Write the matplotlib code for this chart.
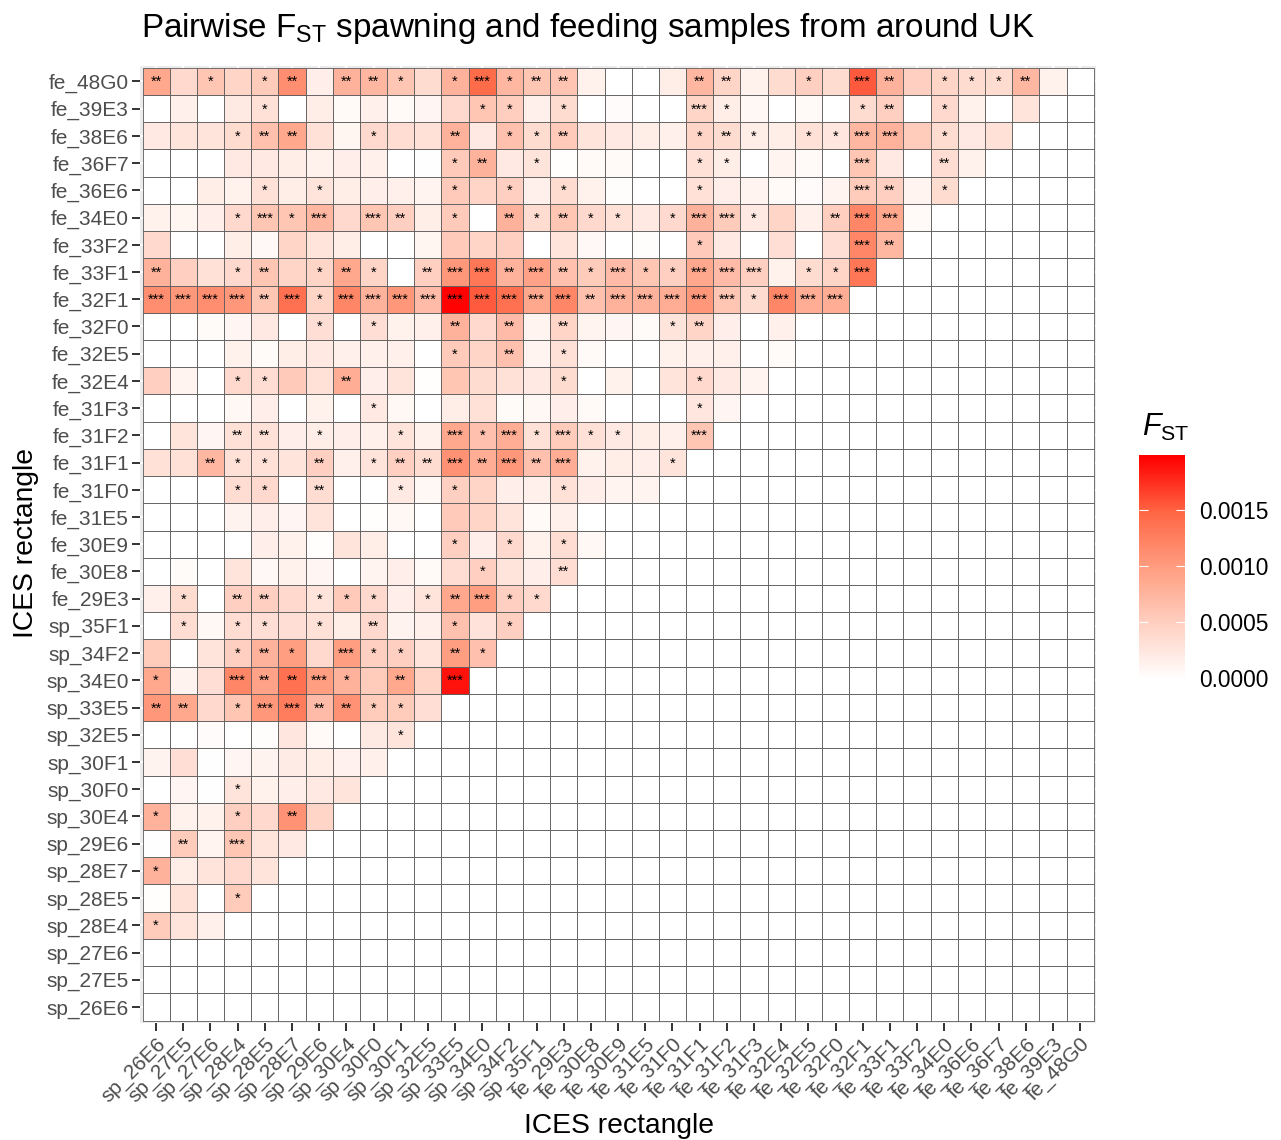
import numpy as np
import matplotlib
matplotlib.use("Agg")
import matplotlib.pyplot as plt
from matplotlib.colors import LinearSegmentedColormap

plt.rcParams['font.family'] = ['Liberation Sans', 'DejaVu Sans']
plt.rcParams['mathtext.fontset'] = 'custom'
plt.rcParams['mathtext.rm'] = 'Liberation Sans'
plt.rcParams['mathtext.it'] = 'Liberation Sans:italic'

x_labels = ['sp_26E6', 'sp_27E5', 'sp_27E6', 'sp_28E4', 'sp_28E5', 'sp_28E7', 'sp_29E6',
            'sp_30E4', 'sp_30F0', 'sp_30F1', 'sp_32E5', 'sp_33E5', 'sp_34E0', 'sp_34F2',
            'sp_35F1', 'fe_29E3', 'fe_30E8', 'fe_30E9', 'fe_31E5', 'fe_31F0', 'fe_31F1',
            'fe_31F2', 'fe_31F3', 'fe_32E4', 'fe_32E5', 'fe_32F0', 'fe_32F1', 'fe_33F1',
            'fe_33F2', 'fe_34E0', 'fe_36E6', 'fe_36F7', 'fe_38E6', 'fe_39E3', 'fe_48G0']
y_labels = ['sp_26E6', 'sp_27E5', 'sp_27E6', 'sp_28E4', 'sp_28E5', 'sp_28E7', 'sp_29E6',
            'sp_30E4', 'sp_30F0', 'sp_30F1', 'sp_32E5', 'sp_33E5', 'sp_34E0', 'sp_34F2',
            'sp_35F1', 'fe_29E3', 'fe_30E8', 'fe_30E9', 'fe_31E5', 'fe_31F0', 'fe_31F1',
            'fe_31F2', 'fe_31F3', 'fe_32E4', 'fe_32E5', 'fe_32F0', 'fe_32F1', 'fe_33F1',
            'fe_33F2', 'fe_34E0', 'fe_36E6', 'fe_36F7', 'fe_38E6', 'fe_39E3', 'fe_48G0']

# FST, units of 0.0001, rows from fe_48G0 down to sp_26E6
fst_rows = [
    [9, 4, 6, 4.5, 5.5, 11.5, 1.8, 8, 7.5, 6, 3.8, 8, 14.5, 7.5, 6, 6.2, 1.4, 0, 0, 2, 7.5, 4.5, 1.4, 3.8, 5, 3.8, 15.5, 8, 5, 4.5, 3.8, 3.8, 7.5, 1.4],
    [0, 1.7, 0, 2.3, 3.2, 0, 2, .6, 1.6, .6, 1, 4, 6, 5.2, 1.6, 3.8, 0, .4, 0, 0, 4.5, 2, .8, 0, .6, 0, 3.8, 5, 0, 4, 1.4, 0, 2.8],
    [2.4, 2.8, 2.8, 3.8, 6.5, 9, 3.2, 1.1, 4, 3.6, 3.2, 8, 2.4, 6.5, 3.8, 5.6, 2.8, 2.4, 2, 1.6, 4.5, 3.8, 2, 2, 3.2, 2.6, 7.5, 8, 5.4, 3.8, 2.4, 3.2],
    [0, 0, 0, 2.4, 2.4, 2, 1.4, 1.8, 1.7, 0, .1, 5.6, 8, 2.4, 2.8, .2, .6, .6, 0, 0, 3.2, 2, 0, 1.2, .6, 0, 6, 2.4, 0, 3.6, 1.4],
    [0, 0, 2, 1.4, 3.2, 2, 2.8, 2, 1.8, 1.6, 1.2, 5.6, 4.5, 5, 1.6, 3.8, 1.4, .3, 0, 0, 3.2, 1.8, 1.2, .6, .4, 1.2, 5.4, 5, 1.2, 3.8],
    [1.4, 1.1, 1.8, 4, 6, 6, 7.5, 4, 6, 5, 2, 5.6, 0, 8, 3.8, 6, 4, 3.2, 2.4, 4, 8, 5.4, 2.4, 4.5, 1.7, 5.2, 12, 9, .6],
    [4, 0, 0, 2, .7, 4.5, 2.8, 2, 0, 0, 1.1, 5.6, 4.5, 5, 0, 2.8, .7, 0, .3, 0, 5.6, 2.4, 0, 3.4, 0, 3.4, 12, 7.5],
    [8, 5, 3.2, 4, 6, 4.5, 4.5, 9, 4.5, 0, 5, 10.5, 13.5, 8, 9.5, 6.5, 5.4, 7, 6, 5, 9, 7, 5, 1.4, 3.8, 4.5, 13.5],
    [11.5, 10.5, 11.5, 10.5, 6, 14, 4.5, 12, 8, 10.5, 7, 19.8, 15.5, 14, 9, 12, 6.5, 8, 8, 8.5, 10.5, 6, 3.8, 12, 8.5, 8.5],
    [0, 0, .5, 1, 2.4, 0, 3.4, 0, 3.4, 1.4, 1.6, 8, 4, 7, 1.2, 4.5, 1.2, 1, .5, 2.8, 4.5, 1.8, 0, 1.6],
    [0, 0, 0, 1.4, .5, 2, 2.4, 1.6, 1.6, 1.6, 0, 5.6, 4.5, 6.5, 1.2, 3.2, .6, 0, 0, 1.4, 1.7, 1.7, 0, .5],
    [5, 1.2, 0, 4, 3.6, 5.6, 3.2, 8.5, 1.8, 2.8, .2, 6, 3.8, 3.2, 2.4, 3.8, 0, 1.4, 0, 2.8, 4, 2.4, 1.2],
    [0, 0, 0, .8, 1.8, 0, 1.4, 0, 2.4, .8, 0, 2, 3.2, .5, .8, 1.8, .6, 0, 0, 0, 2.6, 1],
    [0, 2.8, 1, 3.2, 3.2, 1.8, 2, 1.8, 1.6, 2.8, 1.4, 9, 6.5, 8.5, 3.2, 5.4, 3.2, 2.4, 2, 1.6, 6],
    [3.2, 3.2, 7.5, 3.2, 3.2, 2.8, 5, 1.6, 2.8, 5, 3.8, 11, 8.5, 10.5, 6.5, 8.5, 1.4, 2, 1.8, 2.8],
    [0, 0, 0, 3.6, 4, 0, 3.6, 0, 0, 2.4, .8, 5, 4.5, 1.8, 1.6, 3.2, 1.8, 1.2, 1.2],
    [0, 0, 0, 1.3, 1.8, 1, 2.8, 0, .2, .8, 0, 5.6, 4.5, 2.8, .6, 1.6],
    [0, 0, 0, 0, 1.8, 1.4, .2, 2.8, 2, 0, 0, 5, 1.8, 4, 1.4, 3.6, .8],
    [0, .5, 0, 2.8, .7, 1.4, 1, 0, 1.2, 1.8, .6, 3.6, 5, 2.8, 1.8, 3.6],
    [1.6, 3.8, 0, 5, 5, 4, 2.8, 5.6, 4, 1.8, 2.8, 9, 10, 5, 4],
    [0, 3.6, .8, 3.6, 3.4, 3.4, 3.2, 2, 4, 1.3, 1.6, 6.5, 3, 5],
    [5.4, 0, 2.8, 5, 8, 10, 4, 10, 5, 5, 2.8, 10, 6.5],
    [9, 1.3, 3.4, 12, 9.5, 14, 10, 8, 5.4, 9, 4.5, 19],
    [10.5, 9, 4, 6, 10.5, 13, 7, 11, 5.4, 5.4, 3.4],
    [0, 0, .4, 0, .3, 2.6, .6, 0, 2.3, 2.8],
    [1.3, 3.4, .1, 1, 1.3, 2.1, 2, 1.5, 1.6],
    [0, 1, .1, 2.8, 1.4, 1.8, 2.4, 2.8],
    [8, 1.4, 1.4, 5, 4, 11, 4.5],
    [.1, 5.4, 1.2, 6, 2.8, 2.4],
    [8, 2, 2.8, 4, 2.8],
    [.2, 3.2, 0, 5.4],
    [5.4, 2.8, 1.6],
    [],
    [],
    [],
]

# number of significance stars per cell, same row order
star_rows = [
    '2010120221' '0131220000' '2200103201' '11200',
    '0000100000' '0011010000' '3100001201',
    '0001220010' '0201120000' '1210113301',
    '0000000000' '0120100000' '1100003002',
    '0000101000' '0101010000' '1000003201',
    '0001313032' '0102121101' '3310023300',
    '0000000000' '0000000000' '1000003200',
    '2001201210' '2332321311' '3330113000',
    '3333231333' '3333332333' '3313330',
    '0000001010' '0202020001' '2',
    '0000000000' '0102010000',
    '0001100200' '0000010000' '1',
    '0000000010' '0000000000' '1',
    '0002201001' '0313131100' '3',
    '0021102012' '2323230001',
    '0001102001' '0100010',
    '',
    '0000000000' '0101010',
    '0000000000' '00100200',
    '0102201110' '12311',
    '0101101020' '0101',
    '0001210311' '021',
    '1003223102' '03',
    '2201332211',
    '0000000001',
    '',
    '0001',
    '1001020',
    '0203',
    '1',
    '0001',
    '1',
    '',
    '',
    '',
]

n = len(x_labels)
fst = np.zeros((n, n))
stars = np.zeros((n, n), dtype=int)
for i, row in enumerate(fst_rows):
    # row 0 is the top one, y index runs upward
    fst[n - 1 - i, :len(row)] = np.array(row) * 1e-4
for i, row in enumerate(star_rows):
    for j, c in enumerate(row):
        stars[n - 1 - i, j] = int(c)

cmap = LinearSegmentedColormap.from_list(
    'fst', ['#FFFFFF', '#FFD0C1', '#FF9E81', '#FF6745', '#FF0000'])
vmax = 0.00199

fig = plt.figure(figsize=(12.81, 11.40), dpi=100)
W, H = 1281.0, 1140.0
ax = fig.add_axes([140.2 / W, 1 - 1022.9 / H, 955.8 / W, 957.4 / H])
ax.set_facecolor('#EBEBEB')
edges = np.arange(n + 1) - 0.5
mesh = ax.pcolormesh(edges, edges, fst, cmap=cmap, vmin=0, vmax=vmax,
                     edgecolors='#5A5A5A', linewidth=0.6, antialiased=True, zorder=2)
ax.set_xlim(-0.585, n - 1 + 0.585)
ax.set_ylim(-0.585, n - 1 + 0.585)
ax.grid(True, color='white', linewidth=1.6, zorder=1)
ax.set_axisbelow(True)
for s in ax.spines.values():
    s.set_visible(False)

ax.set_xticks(np.arange(n))
ax.set_yticks(np.arange(n))
ax.set_xticklabels(x_labels, rotation=45, ha='right', va='top', rotation_mode='anchor')
ax.set_yticklabels(y_labels)
ax.tick_params(axis='both', length=5.8, width=1.4, color='#333333',
               labelcolor='#4D4D4D', labelsize=15, pad=2.2)

for (r, c), k in np.ndenumerate(stars):
    if k > 0:
        ax.text(c, r - 0.03, '*' * k, ha='center', va='center', fontsize=10.5,
                color='black', zorder=3)

fig.text(141 / W, 1 - 28 / H, r'Pairwise F$_{\mathrm{ST}}$ spawning and feeding samples from around UK',
         fontsize=23.9, ha='left', va='center', color='black')
fig.text(619 / W, 1 - 1126 / H, 'ICES rectangle', fontsize=20.3, ha='center', va='center')
fig.text(26 / W, 1 - 543 / H, 'ICES rectangle', fontsize=20.3, ha='center', va='center', rotation=90)

# colourbar
cax = fig.add_axes([1139 / W, 1 - 678 / H, 46 / W, 223 / H])
cb = fig.colorbar(mesh, cax=cax, ticks=[0, 0.0005, 0.001, 0.0015])
cb.outline.set_visible(False)
cb.solids.set_edgecolor('face')
cb.ax.set_yticklabels(['0.0000', '0.0005', '0.0010', '0.0015'])
cb.ax.tick_params(axis='y', which='major', direction='in', length=6.6, width=0.8, color='white',
                  left=True, right=True, labelsize=16.4, labelcolor='black', pad=10)
fig.text(1142 / W, 1 - 427 / H, r'$\mathit{F}_{\mathrm{ST}}$', fontsize=22, ha='left', va='center')

fig.savefig('out.png', dpi=100)
